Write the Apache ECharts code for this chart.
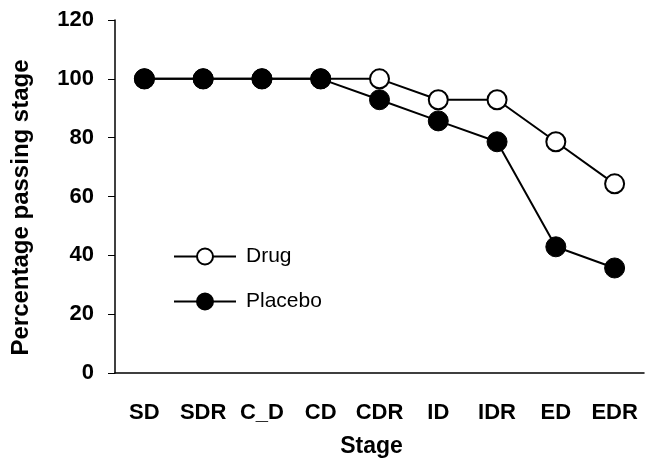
<!DOCTYPE html>
<html><head><meta charset="utf-8">
<script src="https://cdn.jsdelivr.net/npm/echarts@6/dist/echarts.min.js"></script>
<style>html,body{margin:0;padding:0;background:#fff}#c{width:645px;height:461px}</style>
</head><body><div id="c"></div>
<script>
var stages = ['SD','SDR','C_D','CD','CDR','ID','IDR','ED','EDR'];
var drug = [100,100,100,100,100,92.9,92.9,78.6,64.3];
var placebo = [100,100,100,100,92.9,85.7,78.6,42.9,35.7];
var yTicks = [0,20,40,60,80,100,120];

var chart = echarts.init(document.getElementById('c'));
var F = '"Liberation Sans", Arial, sans-serif';
chart.setOption({
  animation:false,
  backgroundColor:'#fff',
  grid:{left:115,right:1,top:20,bottom:88,outerBoundsMode:'none'},
  legend:{
    orient:'vertical', left:168, top:241, itemWidth:62, itemHeight:20, itemGap:24,
    textStyle:{fontFamily:F,fontSize:21,color:'#000',padding:[0,0,0,5]},
    data:['Drug','Placebo']
  },
  xAxis:{
    type:'category', data:stages, boundaryGap:true,
    name:'Stage', nameLocation:'middle', nameGap:62, nameMoveOverlap:false,
    nameTextStyle:{fontFamily:F,fontSize:23,fontWeight:'bold',color:'#000',padding:[0,16,0,0]},
    axisLine:{lineStyle:{color:'#000',width:1.5}},
    axisTick:{inside:false,length:7,lineStyle:{color:'#000',width:1}},
    axisLabel:{fontFamily:F,fontSize:22,fontWeight:'bold',color:'#000',margin:29,interval:0},
    splitLine:{show:false}
  },
  yAxis:{
    type:'value', min:yTicks[0], max:yTicks[yTicks.length-1], interval:20,
    name:'Percentage passing stage', nameLocation:'middle', nameGap:82, nameMoveOverlap:false,
    nameTextStyle:{fontFamily:F,fontSize:24,fontWeight:'bold',color:'#000',padding:[0,22,0,0]},
    axisLine:{show:true,lineStyle:{color:'#000',width:1.5}},
    axisTick:{show:true,inside:false,length:7,lineStyle:{color:'#000',width:1}},
    axisLabel:{fontFamily:F,fontSize:22,fontWeight:'bold',color:'#000',margin:21},
    splitLine:{show:false}
  },
  series:[
    {name:'Drug',type:'line',data:drug,symbol:'circle',symbolSize:19,
     lineStyle:{color:'#000',width:2},
     itemStyle:{color:'#fff',borderColor:'#000',borderWidth:2},z:2},
    {name:'Placebo',type:'line',data:placebo,symbol:'circle',symbolSize:20,
     lineStyle:{color:'#000',width:2},
     itemStyle:{color:'#000',borderColor:'#000',borderWidth:1},z:3}
  ]
});
</script></body></html>
